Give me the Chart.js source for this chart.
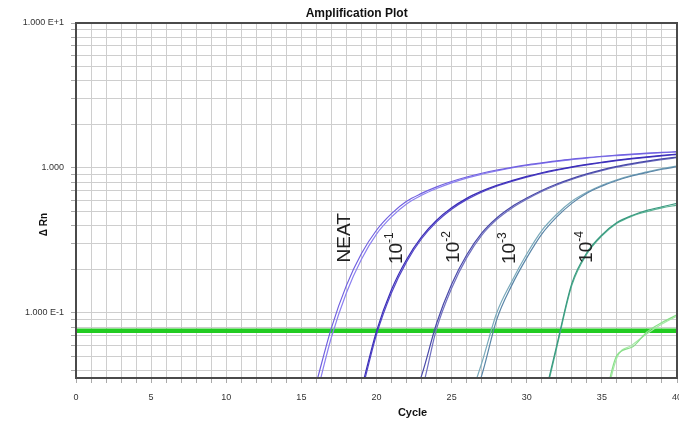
<!DOCTYPE html>
<html><head><meta charset="utf-8">
<script src="https://cdn.jsdelivr.net/npm/chart.js@4/dist/chart.umd.min.js"></script>
<style>html,body{margin:0;padding:0;background:#fff}#wrap{width:679px;height:427px}</style>
</head><body><div id="wrap"><canvas id="c" width="679" height="427"></canvas></div>
<script>
// ---- text ----
const chartTitle = 'Amplification Plot';
const xTitle = 'Cycle';
const yTitle = 'Δ Rn';

// ---- axes ----
const xMin = 0, xMax = 40;
const yMin = 0.0356, yMax = 10;
const xLabelEvery = 5;
const yLabelValues = [0.1, 1, 10];
const yLabelTexts = ['1.000 E-1', '1.000', '1.000 E+1'];

// ---- threshold ----
const threshold = 0.0755;

// ---- series (ΔRn per cycle, starting at the given cycle) ----
const neatStart = 16;
const neatRep1 = [0.033, 0.079, 0.155, 0.257, 0.372, 0.484, 0.589, 0.668, 0.741, 0.807, 0.867, 0.92, 0.968, 1.01, 1.05, 1.085, 1.12, 1.15, 1.18, 1.205, 1.225, 1.245, 1.265, 1.28, 1.295];
const neatRep2 = [0.027, 0.068, 0.138, 0.235, 0.35, 0.46, 0.565, 0.648, 0.722, 0.79, 0.852, 0.905, 0.955, 1.0, 1.04, 1.077, 1.11, 1.14, 1.17, 1.195, 1.217, 1.238, 1.258, 1.274, 1.29];

const d1Start = 19;
const d1Rep1 = [0.030, 0.075, 0.145, 0.234, 0.335, 0.436, 0.531, 0.617, 0.692, 0.759, 0.818, 0.875, 0.927, 0.975, 1.019, 1.059, 1.096, 1.132, 1.164, 1.194, 1.222, 1.247];
const d1Rep2 = [0.028, 0.071, 0.138, 0.225, 0.325, 0.425, 0.52, 0.605, 0.68, 0.748, 0.808, 0.865, 0.917, 0.965, 1.01, 1.05, 1.087, 1.123, 1.155, 1.185, 1.213, 1.238];

const d2Start = 22;
const d2Rep1 = [0.020, 0.037, 0.085, 0.158, 0.251, 0.355, 0.452, 0.54, 0.62, 0.70, 0.775, 0.845, 0.91, 0.97, 1.025, 1.072, 1.115, 1.155, 1.19];
const d2Rep2 = [0.018, 0.029, 0.078, 0.148, 0.24, 0.343, 0.44, 0.528, 0.608, 0.688, 0.763, 0.833, 0.898, 0.958, 1.013, 1.06, 1.103, 1.143, 1.178];

const d3Start = 26;
const d3Rep1 = [0.020, 0.037, 0.09, 0.155, 0.24, 0.35, 0.46, 0.57, 0.67, 0.75, 0.82, 0.88, 0.93, 0.98, 1.02];
const d3Rep2 = [0.022, 0.045, 0.10, 0.165, 0.255, 0.37, 0.48, 0.59, 0.68, 0.76, 0.83, 0.89, 0.94, 0.99, 1.03];

const d4Start = 31;
const d4Rep1 = [0.022, 0.060, 0.16, 0.26, 0.345, 0.42, 0.47, 0.51, 0.54, 0.57];
const d4Rep2 = [0.021, 0.058, 0.155, 0.255, 0.34, 0.415, 0.465, 0.50, 0.53, 0.555];

const d5Start = 35;
const d5Rep1 = [0.020, 0.051, 0.058, 0.074, 0.086, 0.097];
const d5Rep2 = [0.019, 0.049, 0.060, 0.072, 0.084, 0.095];

// ---- in-plot labels (anchor in data coords) ----
const curveLabels = ['NEAT', '10', '10', '10', '10'];
const curveLabelExps = ['', '-1', '-2', '-3', '-4'];
const curveLabelCycles = [17.8, 21.3, 25.1, 28.8, 33.9];
const curveLabelValues = [0.33, 0.28, 0.285, 0.28, 0.285];

// ---- styles ----
const FONT = "'Liberation Sans', Arial, sans-serif";
const seriesDefs = [
  {start: neatStart, vals: neatRep1, color: '#7060e0'},
  {start: neatStart, vals: neatRep2, color: '#8c80f0'},
  {start: d1Start, vals: d1Rep1, color: '#3a2db8'},
  {start: d1Start, vals: d1Rep2, color: '#5446c8'},
  {start: d2Start, vals: d2Rep1, color: '#4848a8'},
  {start: d2Start, vals: d2Rep2, color: '#7070c0'},
  {start: d3Start, vals: d3Rep1, color: '#5a86a8'},
  {start: d3Start, vals: d3Rep2, color: '#7aaabb'},
  {start: d4Start, vals: d4Rep1, color: '#3a9a80'},
  {start: d4Start, vals: d4Rep2, color: '#58b494'},
  {start: d5Start, vals: d5Rep1, color: '#8adf8a'},
  {start: d5Start, vals: d5Rep2, color: '#a4eaa4'},
];

const datasets = seriesDefs.map(s => ({
  data: s.vals.map((v, i) => ({x: s.start + i, y: v})),
  borderColor: s.color, borderWidth: 1.2, pointRadius: 0,
  cubicInterpolationMode: 'monotone', order: 1
}));
datasets.push({
  data: [{x: xMin, y: threshold}, {x: xMax, y: threshold}],
  borderColor: '#22cc22', borderWidth: 4.5, pointRadius: 0, order: 10
});

// y grid values: 1..9 per decade
const yGridValues = [];
[0.01, 0.1, 1].forEach(d => { for (let k = 1; k <= 9; k++) { const v = +(k * d).toPrecision(3); if (v >= yMin && v <= yMax) yGridValues.push(v); } });
yGridValues.push(10);

const deco = {
  id: 'deco',
  afterDatasetsDraw(chart) {
    const {ctx, scales: {x, y}} = chart;
    ctx.save();
    ctx.fillStyle = '#222';
    ctx.textBaseline = 'middle';
    curveLabels.forEach((t, i) => {
      const px = x.getPixelForValue(curveLabelCycles[i]);
      const py = y.getPixelForValue(curveLabelValues[i]);
      ctx.save();
      ctx.translate(px, py);
      ctx.rotate(-Math.PI / 2);
      ctx.font = `19px ${FONT}`;
      const w1 = ctx.measureText(t).width;
      ctx.font = `12px ${FONT}`;
      const w2 = curveLabelExps[i] ? ctx.measureText(curveLabelExps[i]).width : 0;
      const sx = -(w1 + w2) / 2;
      ctx.font = `19px ${FONT}`;
      ctx.textAlign = 'left';
      ctx.fillText(t, sx, 1);
      if (curveLabelExps[i]) {
        ctx.font = `12px ${FONT}`;
        ctx.fillText(curveLabelExps[i], sx + w1, -6);
      }
      ctx.restore();
    });
    ctx.restore();
  },
  afterDraw(chart) {
    const {ctx, chartArea: a} = chart;
    ctx.save();
    ctx.strokeStyle = '#4a4a4a';
    ctx.lineWidth = 2;
    ctx.strokeRect(a.left, a.top, a.right - a.left, a.bottom - a.top);
    ctx.fillStyle = '#111';
    ctx.textAlign = 'center';
    ctx.textBaseline = 'middle';
    ctx.font = `bold 12px ${FONT}`;
    ctx.fillText(chartTitle, a.left + (a.right - a.left) * 0.467, 14);
    ctx.font = `bold 11px ${FONT}`;
    ctx.fillText(xTitle, a.left + (a.right - a.left) * 0.56, a.bottom + 35);
    ctx.save();
    ctx.translate(a.left - 32, (a.top + a.bottom) / 2 + 24);
    ctx.rotate(-Math.PI / 2);
    ctx.font = `bold 10px ${FONT}`;
    ctx.fillText(yTitle, 0, 0);
    ctx.restore();
    ctx.restore();
  }
};

new Chart(document.getElementById('c'), {
  type: 'line',
  data: {datasets},
  options: {
    responsive: false, animation: false, devicePixelRatio: 1,
    layout: {padding: {top: 23, right: 2, left: 0, bottom: 0}},
    plugins: {legend: {display: false}, tooltip: {enabled: false}, title: {display: false}},
    scales: {
      x: {
        type: 'linear', min: xMin, max: xMax,
        ticks: {stepSize: 1, autoSkip: false, maxRotation: 0, padding: 9, color: '#333',
          font: {size: 9, family: FONT},
          callback: v => (v % xLabelEvery === 0 ? String(v) : '')},
        grid: {color: '#cecece', tickColor: '#aaa', tickLength: 5, lineWidth: 1},
        border: {display: false},
        afterFit: s => { s.height = 49; s.paddingLeft = 0; s.paddingRight = 0; }
      },
      y: {
        type: 'logarithmic', min: yMin, max: yMax,
        afterBuildTicks: s => { s.ticks = yGridValues.map(v => ({value: v})); },
        ticks: {autoSkip: false, padding: 7, color: '#333', font: {size: 9, family: FONT},
          callback: v => { const i = yLabelValues.indexOf(v); return i >= 0 ? yLabelTexts[i] : ''; }},
        grid: {color: '#cecece', tickColor: '#aaa', tickLength: 5, lineWidth: 1},
        border: {display: false},
        afterFit: s => { s.width = 76; s.paddingTop = 0; s.paddingBottom = 0; }
      }
    }
  },
  plugins: [deco]
});
</script></body></html>
